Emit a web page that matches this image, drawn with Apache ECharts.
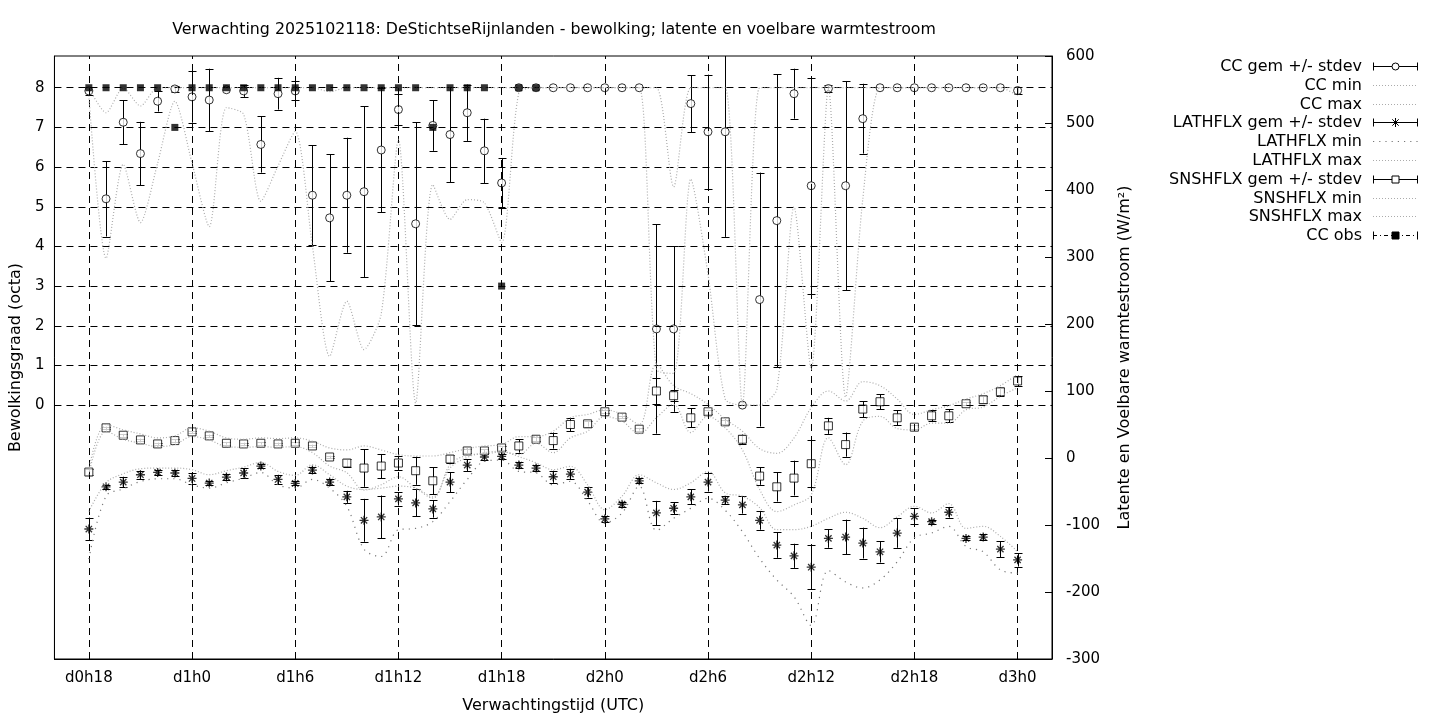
<!DOCTYPE html>
<html><head><meta charset="utf-8">
<script src="https://cdn.jsdelivr.net/npm/echarts@6/dist/echarts.min.js"></script>
<style>html,body{margin:0;padding:0;background:#fff}#c{width:1440px;height:720px}</style>
</head><body><div id="c"></div>
<script>
// ---- data (hours since d0h0) ----
const hours = [18,19,20,21,22,23,24,25,26,27,28,29,30,31,32,33,34,35,36,37,38,39,40,41,42,43,44,45,46,47,48,49,50,51,52,53,54,55,56,57,58,59,60,61,62,63,64,65,66,67,68,69,70,71,72];
const xTickHours = [18,24,30,36,42,48,54,60,66,72];
const xTickLabels = ['d0h18','d1h0','d1h6','d1h12','d1h18','d2h0','d2h6','d2h12','d2h18','d3h0'];
const leftTicks = [0,1,2,3,4,5,6,7,8];

const ccMean = [7.92,5.2,7.13,6.34,7.66,7.97,7.77,7.69,7.95,7.92, 6.57,7.85,7.92,5.29,4.72,5.29,5.38,6.43,7.45,4.57, 7.05,6.82,7.37,6.41,5.6,8,8,8,8,8, 8,8,8,1.92,1.92,7.6,6.89,6.89,0,2.66, 4.65,7.85,5.53,7.98,5.53,7.22,8,8,8,8, 8,8,8,8,7.93];
const ccStd  = [0.1,0.95,0.56,0.8,0.26,0.08,0.65,0.79,0,0.15, 0.71,0.4,0.24,1.26,1.6,1.45,2.15,1.57,0.4,2.56, 0.64,1.2,0.71,0.81,0.63,0,0,0,0,0, 0,0,0,2.64,2.09,0.72,1.44,2.65,0,3.2, 3.69,0.63,2.72,0.08,2.64,0.88,0,0,0,0, 0,0,0,0,0.08];
const ccMin  = [7.8,3.7,6.07,4.6,6.1,7.66,6.1,4.5,7.5,7.33, 5.14,6.03,6.9,4.0,1.23,2.62,1.4,2.3,6.7,0.05, 5.56,4.68,5.18,5.1,4.1,7.87,8,8,8,8, 8,8,8,0.9,0.8,5.7,3.3,0.15,0,0, 0.4,5.0,0.9,8,0.2,5.2,8,8,8,8, 8,8,8,8,7.8];
const ccMax  = [8,7.37,8,7.54,8,8,8,8,8,8, 8,8,8,8,7.9,8,8,8,8,8, 8,8,8,8,8,8,8,8,8,8, 8,8,8,8,5.5,8,8,8,0,8, 8,8,8,8,8,8,8,8,8,8, 8,8,8,8,8];
const ccObs  = [8,8,8,8,8,7,8,8,8,8, 8,8,8,8,8,8,8,8,8,8, 7,8,8,8,3,8,8];

const lhMean = [-106,-43,-36,-25,-21.5,-22.4,-30.5,-37.4,-28.4,-22.4, -12,-32,-38,-18,-36,-58,-93,-88,-61,-67, -76,-36,-10.5,1.5,2.4,-10.5,-15,-28,-24,-51, -91,-69,-34,-82,-75,-58,-36,-63,-70,-93, -130,-146,-163,-120,-118,-127,-140,-112,-87,-95, -81,-120,-118,-136,-152];
const lhStd  = [17,3,8,6,4,4,8,3,5,7, 3,7,3,5,4,9,32,32,10,20, 13,15,9,4,4,5,5,9,8,8, 4,4,4,18,9,11,14,6,13,14, 19,18,33,14,26,23,16,22,12,3, 8,3,5,12,10];
const lhMin  = [-151,-57,-46,-35,-31,-31,-40,-45,-37,-30, -21.5,-40,-45,-32,-45,-72,-136,-147,-107,-105, -95,-65,-32,-5,-3,-20,-22,-40,-35,-64, -97,-82,-42,-108,-90,-75,-60,-78,-110,-150, -182,-207,-250,-168,-185,-194,-182,-155,-119,-112, -102,-132,-140,-167,-172];
const lhMax  = [-80,-37,-23.5,-16,-15,-15,-17.5,-25,-19,-13.5, -6.5,-20,-26,-10,-25,-42,-47,-45,-42,-45, -58,-15,1,8,10,2,-7,-17.5,-12.5,-40, -77,-57,-25,-37,-47,-37,-20,-52,-57,-74, -107,-107,-102,-90,-81,-90,-104,-88,-72,-82, -68,-105,-102,-117,-140];

const snMean = [-21,45,34,27,21,26,39,33,22,21, 22,21,22,18,1.5,-7.5,-15,-12,-7.5,-19, -34,-1.5,10.5,10.5,15,18,28,26,50,51, 69,61,43,100,93,60,69,54,28,-27, -43,-30,-8.5,48,20,73,84,60,46,63, 63,81,87,99,115];
const snStd  = [4,2,2,2,2,2,2,2,2,2, 2,2,2,2,2,6,28,18,11,21, 20,6,3,3,3,10,3,12,10,4, 2,2,2,19,8.5,14,3,3,7,13, 22,26,35,12,18,12,11,11,3,8, 10,2,5,6,8];
const snMin  = [-25,40,28,22,17,20,32,27,17,16, 17,16,17,8,-12,-22,-48,-40,-28,-45, -60,-10,4,6,9,5,22,8,30,40, 62,55,36,60,80,38,62,45,12,-47, -80,-70,-55,30,-10,55,62,44,42,52, 52,72,76,92,105];
const snMax  = [-17,50,42,36,30,33,45,40,30,28, 30,29,30,25,15,12,18,12,5,3, 3,8,14,18,20,32,32,40,60,65, 72,65,50,140,108,96,80,58,40,14, 7,30,75,100,85,114,108,88,65,72, 78,88,96,108,125];

// ---- chart ----
const FONT = 'DejaVu Sans';
const FS = 16;      // title, legend, axis names
const FT = 15;      // tick labels
const GREY = '#ababab';
const chart = echarts.init(document.getElementById('c'), null, {renderer: 'canvas', width: 1440, height: 720});

function pairs(arr) { return arr.map((v, i) => [hours[i], v]); }

function errSeries(name, mean, std, yAxisIndex) {
  return {
    type: 'custom', name: name, xAxisIndex: 0, yAxisIndex: yAxisIndex, clip: true, z: 3, silent: true,
    data: mean.map((m, i) => [hours[i], m - std[i], m + std[i], std[i]]),
    encode: {x: 0, y: [1, 2]},
    renderItem: function (params, api) {
      if (api.value(3) === 0) return null;
      const x = api.value(0);
      const lo = api.coord([x, api.value(1)]);
      const hi = api.coord([x, api.value(2)]);
      const px = Math.round(lo[0]) + 0.5;
      const cap = 4;
      const st = {stroke: '#000', lineWidth: 1};
      return {type: 'group', children: [
        {type: 'line', shape: {x1: px, y1: lo[1], x2: px, y2: hi[1]}, style: st},
        {type: 'line', shape: {x1: px - cap, y1: Math.round(lo[1]) + 0.5, x2: px + cap, y2: Math.round(lo[1]) + 0.5}, style: st},
        {type: 'line', shape: {x1: px - cap, y1: Math.round(hi[1]) + 0.5, x2: px + cap, y2: Math.round(hi[1]) + 0.5}, style: st}
      ]};
    }
  };
}

function greyLine(name, arr, yAxisIndex, color, dash, smooth) {
  return {
    type: 'line', name: name, xAxisIndex: 0, yAxisIndex: yAxisIndex, data: pairs(arr),
    showSymbol: false, symbol: 'none', smooth: smooth, z: 5, silent: true,
    lineStyle: {color: color, width: 1.2, type: dash}
  };
}

const starPath = 'path://M5,0L5,10M0,5L10,5M1.5,1.5L8.5,8.5M1.5,8.5L8.5,1.5';

// legend built with graphic elements
const legItems = [
  ['CC gem +/- stdev', 'circle'], ['CC min', 'dots'], ['CC max', 'dots'],
  ['LATHFLX gem +/- stdev', 'star'], ['LATHFLX min', 'sparse'], ['LATHFLX max', 'dots'],
  ['SNSHFLX gem +/- stdev', 'square'], ['SNSHFLX min', 'dots'], ['SNSHFLX max', 'dots'],
  ['CC obs', 'obs']
];
const graphics = [];
const lx0 = 1373, lx1 = 1418, lxm = 1395.5, ltx = 1362;
legItems.forEach((it, k) => {
  const y = Math.round(66 + k * 18.8) + 0.5;
  graphics.push({type: 'text', x: ltx, y: y, style: {text: it[0], align: 'right', verticalAlign: 'middle', font: FS + 'px "' + FONT + '"', fill: '#000'}});
  const kind = it[1];
  if (kind === 'dots' || kind === 'sparse') {
    graphics.push({type: 'line', shape: {x1: lx0, y1: y, x2: lx1, y2: y},
      style: {stroke: kind === 'dots' ? GREY : '#777', lineWidth: 1.2, lineDash: kind === 'dots' ? [1, 2] : [1.2, 5]}});
  } else {
    const st = {stroke: '#000', lineWidth: 1};
    if (kind === 'obs') st.lineDash = [4, 3, 1, 3];
    graphics.push({type: 'line', shape: {x1: lx0, y1: y, x2: lx1, y2: y}, style: st});
    graphics.push({type: 'line', shape: {x1: lx0 + 0.5, y1: y - 4, x2: lx0 + 0.5, y2: y + 4}, style: {stroke: '#000', lineWidth: 1}});
    graphics.push({type: 'line', shape: {x1: lx1 - 0.5, y1: y - 4, x2: lx1 - 0.5, y2: y + 4}, style: {stroke: '#000', lineWidth: 1}});
    if (kind === 'circle') graphics.push({type: 'circle', shape: {cx: lxm, cy: y, r: 3.5}, style: {fill: '#fff', stroke: '#000', lineWidth: 1}});
    if (kind === 'square') graphics.push({type: 'rect', shape: {x: lxm - 3.5, y: y - 3.5, width: 7, height: 7}, style: {fill: '#fff', stroke: '#000', lineWidth: 1}});
    if (kind === 'obs') graphics.push({type: 'rect', shape: {x: lxm - 3.5, y: y - 3.5, width: 7, height: 7}, style: {fill: '#000', stroke: '#000', lineWidth: 1}});
    if (kind === 'star') {
      [[0, -4.5, 0, 4.5], [-4.5, 0, 4.5, 0], [-3.2, -3.2, 3.2, 3.2], [-3.2, 3.2, 3.2, -3.2]].forEach(s => {
        graphics.push({type: 'line', shape: {x1: lxm + s[0], y1: y + s[1], x2: lxm + s[2], y2: y + s[3]}, style: {stroke: '#000', lineWidth: 1}});
      });
    }
  }
});

const option = {
  animation: false,
  backgroundColor: '#fff',
  textStyle: {fontFamily: FONT, color: '#000'},
  title: {
    text: 'Verwachting 2025102118: DeStichtseRijnlanden - bewolking; latente en voelbare warmtestroom',
    left: 554, top: 22, textAlign: 'center', padding: 0,
    textStyle: {fontFamily: FONT, fontSize: 15.8, fontWeight: 'normal', color: '#000'}
  },
  grid: {left: 54, right: 388, top: 56, bottom: 61, show: true, borderColor: '#000', borderWidth: 1, backgroundColor: 'transparent'},
  xAxis: [{
    type: 'value', min: 16, max: 74, position: 'bottom',
    axisLine: {show: true, onZero: false, lineStyle: {color: '#000', width: 1}},
    axisTick: {show: true, inside: true, length: 6, customValues: xTickHours, lineStyle: {color: '#000'}},
    axisLabel: {customValues: xTickHours, color: '#000', fontSize: FT, fontFamily: FONT, margin: 12,
      formatter: v => xTickLabels[xTickHours.indexOf(v)] || ''},
    splitLine: {show: false},
    name: 'Verwachtingstijd (UTC)', nameLocation: 'middle', nameGap: 39,
    nameTextStyle: {color: '#000', fontSize: FS, fontFamily: FONT}
  }],
  yAxis: [{
    type: 'value', min: -6.4, max: 8.8, position: 'left',
    axisLine: {show: true, onZero: false, lineStyle: {color: '#000', width: 1}},
    axisTick: {show: true, inside: true, length: 6, customValues: leftTicks, lineStyle: {color: '#000'}},
    axisLabel: {customValues: leftTicks, color: '#000', fontSize: FT, fontFamily: FONT, margin: 10},
    splitLine: {show: false},
    name: 'Bewolkingsgraad (octa)', nameLocation: 'middle', nameGap: 24, nameRotate: 90,
    nameTextStyle: {color: '#000', fontSize: FS, fontFamily: FONT}
  }, {
    type: 'value', min: -300, max: 600, interval: 100, position: 'right',
    axisLine: {show: true, onZero: false, lineStyle: {color: '#000', width: 1}},
    axisTick: {show: true, inside: true, length: 7, lineStyle: {color: '#000'}},
    axisLabel: {color: '#000', fontSize: FT, fontFamily: FONT, margin: 14},
    splitLine: {show: false},
    name: 'Latente en Voelbare warmtestroom (W/m²)', nameLocation: 'middle', nameGap: 65, nameRotate: 90,
    nameTextStyle: {color: '#000', fontSize: FS, fontFamily: FONT}
  }],
  graphic: graphics,
  series: [
    {
      type: 'line', name: 'gridlines', xAxisIndex: 0, yAxisIndex: 0, data: [], z: 1, silent: true,
      markLine: {
        silent: true, symbol: ['none', 'none'], label: {show: false}, animation: false,
        lineStyle: {color: '#000', width: 1, type: [7, 5]},
        emphasis: {disabled: true},
        data: xTickHours.map(h => ({xAxis: h})).concat(leftTicks.map(v => ({yAxis: v})))
      }
    },
    errSeries('CC gem +/- stdev', ccMean, ccStd, 0),
    {type: 'scatter', name: 'CC gem', xAxisIndex: 0, yAxisIndex: 0, data: pairs(ccMean), symbol: 'circle', symbolSize: 8, z: 4, silent: true,
      itemStyle: {color: '#fff', borderColor: '#000', borderWidth: 1}},
    greyLine('CC min', ccMin, 0, GREY, [1, 2], 0.25),
    greyLine('CC max', ccMax, 0, GREY, [1, 2], 0.25),
    errSeries('LATHFLX gem +/- stdev', lhMean, lhStd, 1),
    {type: 'scatter', name: 'LATHFLX gem', xAxisIndex: 0, yAxisIndex: 1, data: pairs(lhMean), symbol: starPath, symbolSize: 9, z: 4, silent: true,
      itemStyle: {color: 'transparent', borderColor: '#000', borderWidth: 1.3}},
    greyLine('LATHFLX min', lhMin, 1, '#777', [1.2, 5], 0.35),
    greyLine('LATHFLX max', lhMax, 1, GREY, [1, 2], 0.35),
    errSeries('SNSHFLX gem +/- stdev', snMean, snStd, 1),
    {type: 'scatter', name: 'SNSHFLX gem', xAxisIndex: 0, yAxisIndex: 1, data: pairs(snMean), symbol: 'rect', symbolSize: 8, z: 4, silent: true,
      itemStyle: {color: '#fff', borderColor: '#000', borderWidth: 1}},
    greyLine('SNSHFLX min', snMin, 1, GREY, [1, 2], 0.35),
    greyLine('SNSHFLX max', snMax, 1, GREY, [1, 2], 0.35),
    {type: 'scatter', name: 'CC obs', xAxisIndex: 0, yAxisIndex: 0, data: pairs(ccObs), symbol: 'rect', symbolSize: 7, z: 6, silent: true,
      itemStyle: {color: '#000', borderColor: '#000', borderWidth: 0}}
  ]
};
chart.setOption(option);
</script>
</body></html>
